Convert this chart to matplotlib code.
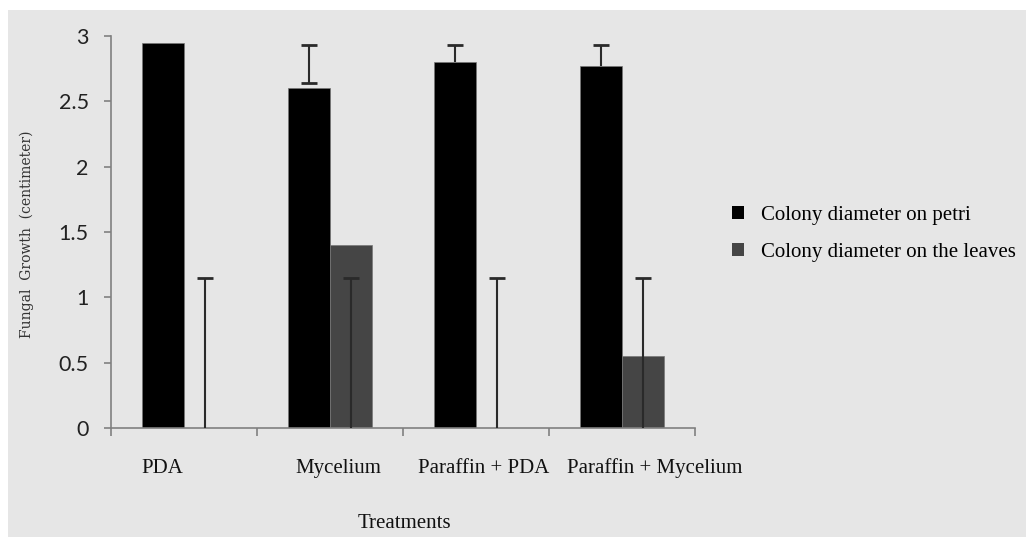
import matplotlib
matplotlib.use("Agg")
import matplotlib.pyplot as plt
import numpy as np
from matplotlib.patches import Rectangle, Patch

categories = ["PDA", "Mycelium", "Paraffin + PDA", "Paraffin + Mycelium"]
series_names = ["Colony diameter on petri", "Colony diameter on the leaves"]
petri = [2.95, 2.60, 2.80, 2.77]
leaves = [0.0, 1.40, 0.0, 0.55]
# error bar ends (low, high)
petri_err_low = [2.95, 2.64, 2.80, 2.77]
petri_err_high = [2.95, 2.93, 2.93, 2.93]
leaves_err_low = [0.0, 0.0, 0.0, 0.0]
leaves_err_high = [1.15, 1.15, 1.15, 1.15]
yticks = [0, 0.5, 1, 1.5, 2, 2.5, 3]
ytick_labels = ["0", "0.5", "1", "1.5", "2", "2.5", "3"]
label_offsets = [-0.151, 0.055, 0.055, 0.226]

W, H = 1026, 537
fig = plt.figure(figsize=(W / 100, H / 100), dpi=100, facecolor="white")
fig.patches.append(Rectangle((8 / W, 0), 1 - 8 / W, 1 - 10 / H, transform=fig.transFigure,
                             facecolor="#e6e6e6", edgecolor="none", zorder=-5))

ax = fig.add_axes([111 / W, 1 - 428 / H, 584 / W, (428 - 36) / H])
ax.set_facecolor("none")
ax.set_zorder(2)

x = np.arange(len(categories))
bw = 0.288
ax.bar(x - bw / 2, petri, width=bw, color="black", edgecolor="#777777", linewidth=0.5, zorder=2)
ax.bar(x + bw / 2, leaves, width=bw, color="#454545", edgecolor="#777777", linewidth=0.5, zorder=2)

ecol = "#2a2a2a"
def draw_err(xs, vals, lo, hi):
    lo = np.array(lo); hi = np.array(hi); vals = np.array(vals)
    ax.vlines(xs, lo, hi, colors=ecol, linewidth=1.5, zorder=3)
    up = np.abs(hi - vals) > 0.01
    ax.plot(xs[up], hi[up], linestyle="none", marker="_", markersize=12,
            markeredgewidth=2.0, color=ecol, zorder=3)
    dn = (np.abs(lo - vals) > 0.01) & (lo > 0)
    ax.plot(xs[dn], lo[dn], linestyle="none", marker="_", markersize=12,
            markeredgewidth=2.0, color=ecol, zorder=3)

draw_err(x - bw / 2, petri, petri_err_low, petri_err_high)
draw_err(x + bw / 2, leaves, leaves_err_low, leaves_err_high)

ax.set_xlim(-0.5, len(categories) - 0.5)
ax.set_ylim(0, 3)

for s in ["top", "right"]:
    ax.spines[s].set_visible(False)
for s in ["left", "bottom"]:
    ax.spines[s].set_color("#808080")
    ax.spines[s].set_linewidth(1.2)

ax.set_yticks(yticks)
ax.set_yticklabels(ytick_labels, fontfamily="Lato", fontsize=15.5, color="#222222")
ax.tick_params(axis="y", length=5, width=1.2, color="#808080", pad=11)

ax.set_xticks(np.arange(len(categories) + 1) - 0.5)
ax.set_xticklabels([])
ax.tick_params(axis="x", length=6, width=1.2, color="#808080")
ax.set_xticks(x + np.array(label_offsets), minor=True)
ax.set_xticklabels(categories, minor=True, fontfamily="Liberation Serif", fontsize=15, color="#111111")
ax.tick_params(axis="x", which="minor", length=0, pad=22)

fig.text(404 / W, 1 - 523 / H, "Treatments", ha="center", va="center",
         fontfamily="Liberation Serif", fontsize=15, color="#111111")
fig.text(27 / W, 1 - 234 / H, "Fungal  Growth  (centimeter)", rotation=90, ha="center", va="center",
         fontfamily="DejaVu Serif", fontsize=10, color="#333333")

handles = [Patch(facecolor="black"), Patch(facecolor="#454545")]
fig.legend(handles, series_names, loc="center left", bbox_to_anchor=(732 / W, 1 - 234 / H),
           frameon=False, prop={"family": "Liberation Serif", "size": 15},
           handlelength=0.58, handleheight=0.58, handletextpad=0.8, labelspacing=0.85,
           borderpad=0, borderaxespad=0)

fig.savefig("out.png", dpi=100, facecolor=fig.get_facecolor())
